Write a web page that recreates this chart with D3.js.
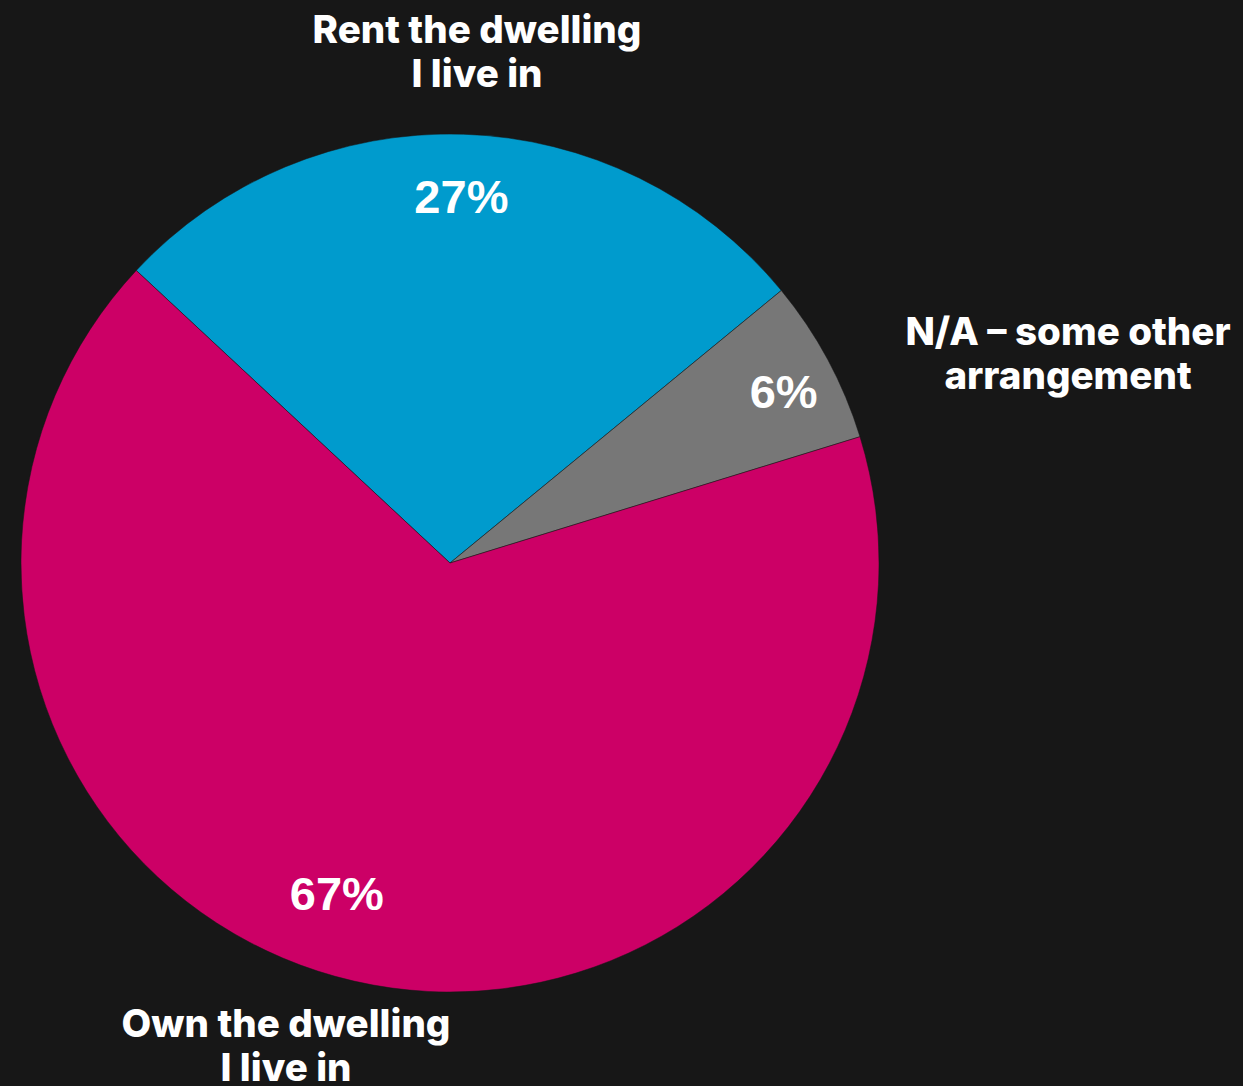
<!DOCTYPE html>
<html><head><meta charset="utf-8">
<script src="https://cdn.jsdelivr.net/npm/d3@7"></script>
<style>
html,body{margin:0;padding:0;background:#171717;}
svg{display:block;}
</style></head>
<body>
<svg id="chart" width="1243" height="1086"></svg>
<script>
const categories = ["Rent the dwelling I live in", "N/A – some other arrangement", "Own the dwelling I live in"];
const labelLines = [["Rent the dwelling", "I live in"], ["N/A – some other", "arrangement"], ["Own the dwelling", "I live in"]];
const values = [27.1, 6.2, 66.7];
const percentLabels = ["27%", "6%", "67%"];
const colors = ["#009bcd", "#777777", "#cc0066"];

const W = 1243, H = 1086;
const cx = 450, cy = 563, R = 429;
// layout: outer label anchor (x, first-line baseline) relative to chart center
const outerLabelPos = [[477, -520], [1068 - 450, -218], [286 - 450, 474]];
const outerLabelAnchorX = [477 - 450, 1068 - 450, 286 - 450];
// layout: percent label radius factor and angle shift (degrees)
const pctRadius = [0.855, 0.875, 0.813];
const pctAngleShift = [0, 1, 6];

const svg = d3.select("#chart");
svg.append("rect").attr("width", W).attr("height", H).attr("fill", "#171717");
const g = svg.append("g").attr("transform", `translate(${cx},${cy})`);

const data = categories.map((c, i) => ({cat: c, value: values[i], i}));
const startA = -47 * Math.PI / 180;
const pie = d3.pie().value(d => d.value).sort(null).startAngle(startA).endAngle(startA + 2 * Math.PI);
const arcs = pie(data);
const arc = d3.arc().innerRadius(0).outerRadius(R);

g.selectAll("path.slice").data(arcs).join("path")
  .attr("class", "slice")
  .attr("d", arc)
  .attr("fill", d => colors[d.data.i])
  .attr("stroke", "#171717").attr("stroke-width", 0.5);

g.selectAll("text.pct").data(arcs).join("text")
  .attr("class", "pct")
  .attr("transform", d => {
    const i = d.data.i;
    const a = (d.startAngle + d.endAngle) / 2 + pctAngleShift[i] * Math.PI / 180;
    const r = R * pctRadius[i];
    return `translate(${r * Math.sin(a)},${-r * Math.cos(a)})`;
  })
  .attr("text-anchor", "middle")
  .attr("dy", "0.36em")
  .attr("fill", "#ffffff")
  .style("font-family", "'Liberation Sans', Arial, sans-serif")
  .style("font-weight", "700")
  .style("font-size", "47px")
  .text(d => percentLabels[d.data.i]);

const outer = g.selectAll("text.outer").data(arcs).join("text")
  .attr("class", "outer")
  .attr("text-anchor", "middle")
  .attr("fill", "#ffffff")
  .style("font-family", "Inter, 'Noto Sans', sans-serif")
  .style("font-weight", "800")
  .style("font-size", "38.5px");
outer.each(function(d) {
  const i = d.data.i;
  const x = outerLabelAnchorX[i], y0 = outerLabelPos[i][1];
  const t = d3.select(this);
  labelLines[i].forEach((ln, k) => {
    t.append("tspan").attr("x", x).attr("y", y0 + k * 44).text(ln);
  });
});
</script>
</body></html>
